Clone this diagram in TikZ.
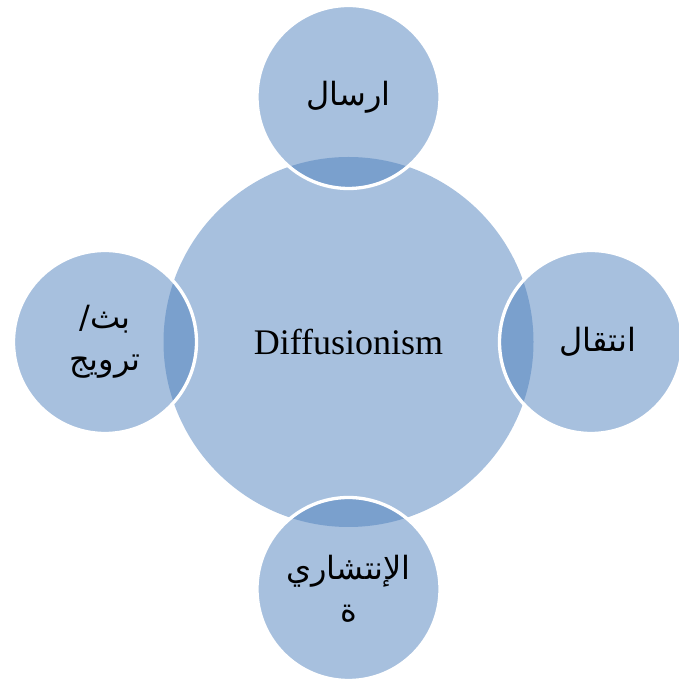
\documentclass[tikz,border=0pt]{standalone}
\usepackage{fontspec}
\setmainfont{Liberation Serif}
\newfontfamily\arabicfont[Script=Arabic]{DejaVu Sans}
\TeXXeTstate=1
\definecolor{accent}{HTML}{4F81BD}
\begin{document}
\begin{tikzpicture}[x=1pt,y=1pt,
  hub/.style={circle, inner sep=0pt, minimum size=370pt, fill=accent, fill opacity=0.5, text opacity=1,
    font=\fontsize{36}{43}\selectfont},
  sat/.style={circle, inner sep=0pt, minimum size=183pt, fill=accent, fill opacity=0.5, text opacity=1,
    draw=white, line width=3.3pt, align=center,
    font=\arabicfont\fontsize{32}{42}\selectfont}]
\useasboundingbox (0,0) rectangle (678,679);
\node[hub] (c) at (348.5,337) {Diffusionism};
\node[sat] (t) at (348.5,582) {\beginR ارسال\endR};
\node[sat] (r) at (591,337) {\hspace*{14pt}\beginR انتقال\endR};
\node[sat] (l) at (105,337) {\beginR بث/\endR\\\beginR ترويج\endR};
\node[sat] (b) at (348.5,90) {\beginR الإنتشاري\endR\\\beginR ة\endR};
\end{tikzpicture}
\end{document}
